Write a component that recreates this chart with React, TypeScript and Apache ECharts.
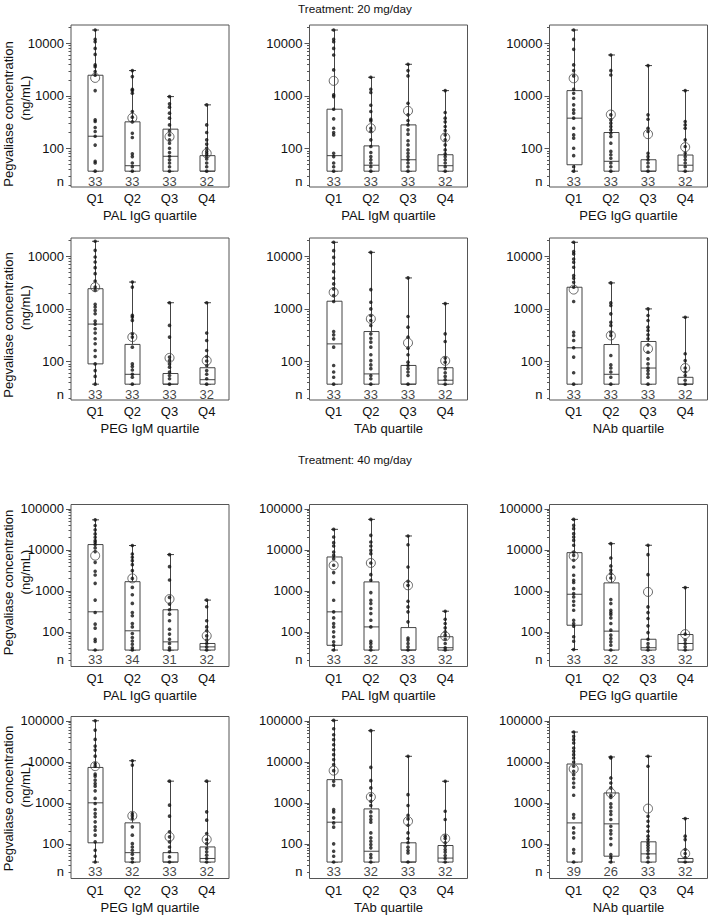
import React, { useEffect, useRef } from 'react';
import * as echarts from 'echarts';

// ---------- categories / labels ----------
const QUARTILES = ['Q1', 'Q2', 'Q3', 'Q4'];
const X_POS = [1, 2, 3, 4];
const TITLES = ['PAL IgG quartile', 'PAL IgM quartile', 'PEG IgG quartile', 'PEG IgM quartile', 'TAb quartile', 'NAb quartile'];
const TICKS_20 = [100, 1000, 10000];
const TICKS_40 = [100, 1000, 10000, 100000];

// ---------- 20 mg/day ----------  box rows: [min, q1, median, q3, max]
const palIgG20Box = [[37, 37, 171, 2470, 17900], [37, 37, 47, 321, 3030], [37, 37, 71, 233, 970], [37, 37, 37, 73, 675]];
const palIgG20Mean = [2200, 382, 167, 81];
const palIgG20Dots = [
  [17900, 11900, 10700, 8000, 6150, 3880, 3600, 2900, 2470, 1260, 350, 326, 250, 210, 171, 116, 57, 53, 37],
  [3030, 2330, 1340, 1260, 1120, 505, 394, 321, 195, 162, 79, 70, 53, 45, 37],
  [970, 705, 610, 470, 377, 281, 216, 181, 146, 126, 101, 84, 71, 61, 53, 45, 37],
  [675, 281, 201, 146, 121, 101, 88, 79, 70, 63, 53, 45, 37],
];
const palIgM20Box = [[37, 37, 73, 558, 17900], [37, 37, 48, 112, 2260], [37, 37, 61, 281, 3990], [37, 37, 47, 76, 1260]];
const palIgM20Mean = [1930, 243, 519, 162];
const palIgM20Dots = [
  [17900, 11900, 10700, 8000, 6000, 3120, 1045, 970, 558, 366, 243, 201, 181, 81, 70, 53, 45, 37],
  [2260, 1340, 1160, 665, 505, 360, 335, 243, 210, 146, 109, 84, 70, 61, 53, 45, 37],
  [3990, 3030, 2400, 726, 436, 340, 281, 226, 187, 140, 117, 94, 81, 70, 61, 53, 45, 37],
  [1260, 483, 377, 321, 262, 220, 181, 146, 117, 94, 79, 70, 61, 53, 45, 37],
];
const pegIgG20Box = [[37, 49, 377, 1260, 17900], [37, 37, 57, 201, 6000], [37, 37, 37, 61, 3770], [37, 37, 48, 75, 1260]];
const pegIgG20Mean = [2160, 442, 187, 106];
const pegIgG20Dots = [
  [17900, 11900, 7690, 3880, 3030, 2400, 1340, 1120, 903, 675, 542, 470, 377, 243, 181, 157, 101, 73, 45, 37],
  [6000, 3030, 2500, 436, 350, 303, 262, 226, 195, 169, 126, 88, 76, 65, 53, 45, 37],
  [3770, 436, 360, 243, 210, 81, 70, 61, 53, 45, 37],
  [1260, 326, 281, 243, 146, 109, 81, 70, 61, 53, 45, 37],
];
const pegIgM20Box = [[37, 90, 514, 2420, 19300], [37, 37, 57, 211, 3240], [37, 37, 37, 59, 1310], [37, 37, 45, 76, 1310]];
const pegIgM20Mean = [2600, 291, 117, 104];
const pegIgM20Dots = [
  [19300, 13000, 9700, 7800, 6080, 4680, 3390, 2600, 2250, 1220, 1085, 936, 809, 586, 514, 419, 347, 270, 217, 162, 124, 90, 67, 52, 37],
  [3240, 2600, 751, 699, 604, 336, 291, 187, 90, 80, 69, 57, 50, 37],
  [1310, 485, 291, 121, 104, 90, 78, 63, 54, 47, 37],
  [1310, 347, 251, 162, 124, 102, 84, 67, 57, 47, 37],
];
const tab20Box = [[37, 37, 216, 1400, 18500], [37, 37, 58, 371, 11900], [37, 37, 37, 84, 3880], [37, 37, 44, 76, 1260]];
const tab20Mean = [2070, 646, 226, 103];
const tab20Dots = [
  [18500, 12800, 9570, 7150, 5110, 3820, 2990, 2400, 1790, 1380, 371, 321, 269, 187, 84, 63, 50, 37],
  [11900, 2330, 1340, 1000, 747, 600, 483, 335, 277, 233, 187, 134, 104, 86, 73, 54, 47, 37],
  [3880, 715, 449, 290, 179, 134, 97, 84, 73, 63, 54, 37],
  [1260, 335, 240, 116, 97, 73, 61, 52, 45, 37],
];
const nab20Box = [[37, 37, 182, 2580, 18500], [37, 37, 57, 210, 3120], [37, 37, 75, 240, 1000], [37, 37, 37, 50, 695]];
const nab20Mean = [2330, 312, 174, 75];
const nab20Dots = [
  [18500, 12300, 11100, 8890, 7690, 6180, 4300, 3820, 3210, 2580, 1380, 360, 312, 251, 182, 121, 61, 37],
  [3120, 1300, 1160, 804, 558, 483, 360, 312, 130, 86, 75, 63, 50, 37],
  [1000, 747, 600, 449, 388, 321, 269, 207, 150, 112, 90, 75, 67, 58, 50, 37],
  [695, 140, 104, 75, 63, 54, 44, 37],
];
const counts20 = [[33, 33, 33, 32], [33, 33, 33, 32], [33, 33, 33, 32], [33, 33, 33, 32], [33, 33, 33, 32], [33, 33, 33, 32]];

// ---------- 40 mg/day ----------
const palIgG40Box = [[36, 36, 308, 13400, 53700], [36, 36, 106, 1670, 12700], [36, 36, 57, 345, 7640], [36, 36, 43, 52, 594]];
const palIgG40Mean = [7200, 2010, 630, 80];
const palIgG40Dots = [
  [53700, 39100, 30600, 24400, 20200, 16800, 15300, 13400, 11100, 9040, 4950, 2990, 2430, 1520, 594, 297, 154, 123, 66, 58, 36],
  [12700, 7920, 6570, 5440, 4340, 3100, 2010, 1210, 804, 493, 297, 246, 160, 132, 91, 73, 60, 50, 41, 36],
  [7640, 3880, 1830, 690, 474, 345, 270, 186, 116, 88, 66, 52, 41, 36],
  [594, 408, 186, 132, 106, 80, 63, 52, 43, 36],
];
const palIgM40Box = [[36, 47, 307, 6680, 31500], [36, 36, 132, 1650, 55100], [36, 36, 36, 127, 21700], [36, 36, 41, 76, 318]];
const palIgM40Mean = [4190, 4770, 1360, 78];
const palIgM40Dots = [
  [31500, 20500, 14900, 12400, 8830, 7330, 6080, 4190, 2780, 1590, 589, 307, 219, 160, 132, 100, 76, 57, 47, 36],
  [55100, 22500, 15500, 12400, 9700, 8050, 4770, 2480, 1810, 906, 589, 489, 370, 279, 192, 132, 59, 52, 43, 36],
  [21700, 13300, 3810, 1710, 1360, 557, 405, 307, 175, 71, 63, 52, 43, 36],
  [318, 203, 160, 125, 100, 83, 66, 52, 41, 36],
];
const pegIgG40Box = [[37, 145, 824, 8510, 55100], [36, 36, 104, 1560, 14100], [36, 36, 41, 66, 12900], [36, 36, 52, 86, 1200]];
const pegIgG40Mean = [7070, 2060, 940, 88];
const pegIgG40Dots = [
  [55100, 39400, 32700, 24700, 20500, 17000, 12900, 8830, 7330, 5540, 3810, 2390, 1810, 1590, 1130, 857, 711, 557, 446, 337, 192, 160, 137, 76, 59, 37],
  [14100, 6310, 4040, 3160, 2620, 2060, 612, 489, 337, 295, 264, 219, 160, 110, 83, 69, 57, 47, 36],
  [12900, 7620, 2480, 405, 295, 211, 140, 96, 66, 52, 43, 36],
  [1200, 88, 63, 52, 43, 36],
];
const pegIgM40Box = [[36, 106, 1000, 7280, 100000], [36, 36, 61, 325, 10600], [36, 36, 36, 61, 3370], [36, 36, 44, 84, 3370]];
const pegIgM40Mean = [7830, 482, 148, 128];
const pegIgM40Dots = [
  [100000, 59200, 35100, 24100, 19300, 13700, 9100, 7830, 5000, 4470, 3570, 2960, 2550, 1960, 1280, 964, 687, 549, 456, 344, 260, 215, 163, 112, 70, 50, 36],
  [10600, 8300, 549, 482, 415, 260, 163, 101, 84, 70, 56, 44, 36],
  [3370, 877, 473, 196, 148, 112, 84, 64, 48, 36],
  [3370, 603, 378, 179, 128, 101, 77, 64, 53, 44, 36],
];
const tab40Box = [[36, 36, 337, 3670, 102000], [36, 36, 66, 711, 57300], [36, 36, 36, 106, 13600], [36, 36, 45, 91, 3350]];
const tab40Mean = [6080, 1390, 356, 135];
const tab40Dots = [
  [102000, 64000, 45700, 34600, 26100, 19700, 14900, 11300, 8510, 6080, 3350, 2670, 684, 601, 430, 324, 255, 100, 66, 50, 36],
  [57300, 7330, 3470, 2310, 1530, 1090, 857, 601, 471, 391, 337, 185, 140, 116, 96, 80, 55, 46, 36],
  [13600, 1580, 857, 497, 406, 284, 185, 135, 106, 83, 69, 60, 36],
  [3350, 624, 391, 154, 135, 106, 87, 73, 63, 52, 44, 36],
];
const nab40Box = [[36, 36, 324, 8830, 53100], [36, 50, 307, 1740, 13100], [36, 36, 57, 112, 13600], [36, 36, 36, 44, 413]];
const nab40Mean = [6680, 1740, 724, 58];
const nab40Dots = [
  [53100, 41700, 34600, 28700, 21700, 18000, 14900, 12400, 9890, 7760, 5860, 4860, 3890, 3050, 2390, 1530, 518, 430, 245, 185, 140, 73, 60, 36],
  [13100, 12400, 4040, 3050, 2310, 1530, 1360, 940, 780, 624, 518, 391, 269, 211, 175, 135, 96, 55, 46, 36],
  [13600, 7760, 471, 356, 269, 203, 154, 127, 106, 93, 80, 69, 57, 46, 36],
  [413, 154, 127, 73, 58, 46, 36],
];
const counts40 = [[33, 34, 31, 32], [33, 32, 33, 32], [33, 32, 33, 32], [33, 32, 33, 32], [33, 32, 33, 32], [39, 26, 33, 32]];

// ---------- layout ----------
const FONT = 'Liberation Sans, Arial, Helvetica, sans-serif';
const COL_LEFT = [71, 309.5, 549.5];
const ROW_TOP = [25, 238, 504.5, 716.5];
const GRID_W = 158;
const GRID_H = 162;
const AX20 = { min: 18.5, max: 22300, nY: 23.5, ticks: TICKS_20 };
const AX40 = { min: 14.3, max: 127000, nY: 21, ticks: TICKS_40 };

const BOXES = [palIgG20Box, palIgM20Box, pegIgG20Box, pegIgM20Box, tab20Box, nab20Box, palIgG40Box, palIgM40Box, pegIgG40Box, pegIgM40Box, tab40Box, nab40Box];
const MEANS = [palIgG20Mean, palIgM20Mean, pegIgG20Mean, pegIgM20Mean, tab20Mean, nab20Mean, palIgG40Mean, palIgM40Mean, pegIgG40Mean, pegIgM40Mean, tab40Mean, nab40Mean];
const DOTS = [palIgG20Dots, palIgM20Dots, pegIgG20Dots, pegIgM20Dots, tab20Dots, nab20Dots, palIgG40Dots, palIgM40Dots, pegIgG40Dots, pegIgM40Dots, tab40Dots, nab40Dots];
const COUNTS = [...counts20, ...counts40];

function minorTicks(min: number, max: number) {
  const out: number[] = [];
  for (let d = 10; d <= 100000; d *= 10) {
    for (let k = 2; k <= 9; k++) {
      const v = k * d;
      if (v > min && v < max) out.push(v);
    }
  }
  return out;
}

function buildOption() {
  const grid: any[] = [];
  const xAxis: any[] = [];
  const yAxis: any[] = [];
  const series: any[] = [];
  const LINE = '#444';
  for (let p = 0; p < 12; p++) {
    const row = Math.floor(p / 3);
    const col = p % 3;
    const ax = p < 6 ? AX20 : AX40;
    grid.push({ left: COL_LEFT[col], top: ROW_TOP[row], width: GRID_W, height: GRID_H, show: true, borderColor: '#555', borderWidth: 1, backgroundColor: 'transparent' });
    xAxis.push({
      type: 'value', gridIndex: p, min: 0.35, max: 4.6,
      axisLine: { show: false }, axisTick: { show: false }, splitLine: { show: false },
      axisLabel: { customValues: X_POS, formatter: (v: number) => QUARTILES[Math.round(v) - 1] || '', fontSize: 13, color: '#111', margin: 5, fontFamily: FONT },
      name: TITLES[p % 6], nameLocation: 'middle', nameGap: 22,
      nameTextStyle: { fontSize: 13, color: '#111', fontFamily: FONT },
    });
    yAxis.push({
      type: 'log', logBase: 10, gridIndex: p, position: 'left', min: ax.min, max: ax.max,
      axisLine: { show: false }, splitLine: { show: false },
      axisTick: { show: true, length: 5, customValues: ax.ticks, lineStyle: { color: '#555' } },
      axisLabel: { customValues: [ax.nY, ...ax.ticks], formatter: (v: number) => (v < 60 ? 'n' : String(Math.round(v))), fontSize: 13, color: '#111', margin: 7, fontFamily: FONT },
    });
    yAxis.push({
      type: 'log', logBase: 10, gridIndex: p, position: 'left', offset: 0, min: ax.min, max: ax.max,
      axisLine: { show: false }, splitLine: { show: false }, axisLabel: { show: false },
      axisTick: { show: true, length: 2.5, customValues: minorTicks(ax.min, ax.max), lineStyle: { color: '#555' } },
    });
    const boxData = BOXES[p].map((b, i) => [X_POS[i], ...b]);
    series.push({
      type: 'custom', xAxisIndex: p, yAxisIndex: 2 * p, data: boxData, encode: { x: 0, y: [1, 2, 3, 4, 5] }, z: 2,
      renderItem: (params: any, api: any) => {
        const x = api.value(0);
        const pMin = api.coord([x, api.value(1)]);
        const pQ1 = api.coord([x, api.value(2)]);
        const pMed = api.coord([x, api.value(3)]);
        const pQ3 = api.coord([x, api.value(4)]);
        const pMax = api.coord([x, api.value(5)]);
        const cx = Math.round(pMin[0]) + 0.5;
        const hw = 7.5;
        const cap = 3.5;
        const st = { stroke: LINE, lineWidth: 1 };
        return {
          type: 'group',
          children: [
            { type: 'line', shape: { x1: cx, y1: pMax[1], x2: cx, y2: pQ3[1] }, style: st },
            { type: 'line', shape: { x1: cx, y1: pQ1[1], x2: cx, y2: pMin[1] }, style: st },
            { type: 'line', shape: { x1: cx - cap, y1: pMax[1], x2: cx + cap, y2: pMax[1] }, style: st },
            { type: 'line', shape: { x1: cx - cap, y1: pMin[1], x2: cx + cap, y2: pMin[1] }, style: st },
            { type: 'rect', shape: { x: cx - hw, y: pQ3[1], width: 2 * hw, height: pQ1[1] - pQ3[1] }, style: { fill: '#fff', stroke: LINE, lineWidth: 1 } },
            { type: 'line', shape: { x1: cx - hw, y1: pMed[1], x2: cx + hw, y2: pMed[1] }, style: st },
          ],
        };
      },
    });
    const dotData: number[][] = [];
    DOTS[p].forEach((arr, i) => arr.forEach((v) => dotData.push([X_POS[i], v])));
    series.push({ type: 'scatter', xAxisIndex: p, yAxisIndex: 2 * p, data: dotData, symbol: 'circle', symbolSize: 3.6, itemStyle: { color: '#111' }, z: 3, clip: false });
    series.push({
      type: 'scatter', xAxisIndex: p, yAxisIndex: 2 * p, data: MEANS[p].map((m, i) => [X_POS[i], m]), symbol: 'circle', symbolSize: 9,
      itemStyle: { color: 'rgba(0,0,0,0)', borderColor: '#444', borderWidth: 1 }, z: 4, clip: false,
    });
    series.push({
      type: 'scatter', xAxisIndex: p, yAxisIndex: 2 * p, data: COUNTS[p].map((c, i) => [X_POS[i], ax.nY, c]), symbol: 'circle', symbolSize: 0,
      itemStyle: { color: 'rgba(0,0,0,0)' }, z: 5, clip: false,
      label: { show: true, position: 'inside', formatter: (q: any) => String(q.value[2]), fontSize: 13, color: '#111', textBorderWidth: 0, fontFamily: FONT },
    });
  }

  const txt = (text: string, x: number, y: number, size: number, rot = 0) => ({
    type: 'text', x, y, rotation: rot,
    style: { text, fontSize: size, fontFamily: FONT, fill: '#111', align: 'center', verticalAlign: 'middle' },
  });
  const yTitleCenters = [[114, 98], [325, 307.5], [582.5, 572], [798.5, 785]];
  const graphic: any[] = [txt('Treatment: 20 mg/day', 355, 8, 11.7), txt('Treatment: 40 mg/day', 355, 459, 11.7)];
  yTitleCenters.forEach(([a, b]) => {
    graphic.push(txt('Pegvaliase concentration', 8, a, 13, Math.PI / 2));
    graphic.push(txt('(ng/mL)', 25, b, 13, Math.PI / 2));
  });

  return { animation: false, textStyle: { fontFamily: FONT }, grid, xAxis, yAxis, series, graphic };
}

export default function App() {
  const ref = useRef<HTMLDivElement>(null);
  useEffect(() => {
    if (!ref.current) return;
    const chart = echarts.init(ref.current, undefined, { renderer: 'svg' });
    chart.setOption(buildOption() as any);
    return () => chart.dispose();
  }, []);
  return <div ref={ref} style={{ position: 'absolute', left: 0, top: 0, width: 709, height: 916, background: '#fff' }} />;
}
